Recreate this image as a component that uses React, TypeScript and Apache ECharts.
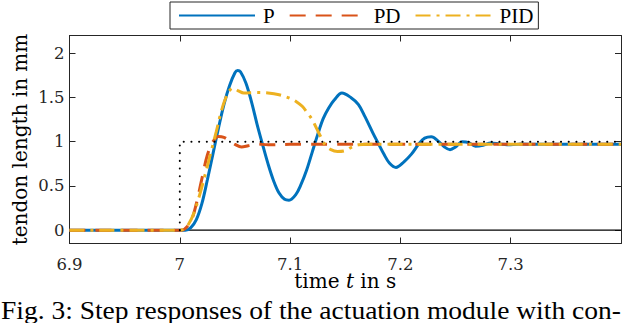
import React, { useEffect, useRef } from "react";
import * as echarts from "echarts";

// ---- data ----
const pTime = [6.9, 7.0, 7.005, 7.01, 7.015, 7.02, 7.025, 7.03, 7.035, 7.04, 7.045, 7.05, 7.0525, 7.055, 7.06, 7.065, 7.07, 7.075, 7.08, 7.085, 7.09, 7.095, 7.099, 7.105, 7.11, 7.115, 7.12, 7.125, 7.13, 7.135, 7.14, 7.147, 7.155, 7.162, 7.168, 7.175, 7.18, 7.185, 7.19, 7.196, 7.203, 7.21, 7.217, 7.222, 7.228, 7.234, 7.24, 7.245, 7.25, 7.256, 7.262, 7.268, 7.275, 7.282, 7.29, 7.3, 7.31, 7.32, 7.4];
const pValues = [0, 0, 0, 0.03, 0.12, 0.3, 0.57, 0.86, 1.15, 1.42, 1.63, 1.78, 1.805, 1.79, 1.66, 1.45, 1.2, 0.97, 0.75, 0.56, 0.42, 0.35, 0.34, 0.4, 0.52, 0.68, 0.88, 1.08, 1.26, 1.38, 1.47, 1.55, 1.5, 1.42, 1.28, 1.1, 0.98, 0.86, 0.76, 0.71, 0.77, 0.86, 0.98, 1.04, 1.055, 1.01, 0.94, 0.91, 0.94, 1.0, 0.99, 0.95, 0.96, 0.985, 0.975, 0.965, 0.975, 0.97, 0.97];

const pdTime = [6.9, 7.0, 7.004, 7.01, 7.015, 7.02, 7.025, 7.03, 7.035, 7.04, 7.045, 7.05, 7.056, 7.062, 7.07, 7.08, 7.1, 7.4];
const pdValues = [0, 0, 0.01, 0.1, 0.3, 0.58, 0.85, 1.0, 1.06, 1.05, 1.01, 0.97, 0.94, 0.955, 0.975, 0.965, 0.97, 0.97];

const pidTime = [6.9, 7.0, 7.003, 7.008, 7.013, 7.018, 7.023, 7.028, 7.033, 7.038, 7.043, 7.048, 7.053, 7.058, 7.07, 7.08, 7.09, 7.1, 7.106, 7.111, 7.116, 7.12, 7.124, 7.128, 7.132, 7.137, 7.143, 7.15, 7.156, 7.162, 7.17, 7.4];
const pidValues = [0, 0, 0.01, 0.07, 0.2, 0.4, 0.63, 0.87, 1.11, 1.36, 1.53, 1.605, 1.575, 1.55, 1.555, 1.55, 1.53, 1.49, 1.45, 1.4, 1.32, 1.25, 1.15, 1.05, 0.96, 0.91, 0.89, 0.9, 0.94, 0.965, 0.97, 0.97];

const refTime = [7.0, 7.0, 7.4];
const refValues = [0, 1, 1];

const zeroTime = [6.9, 7.4];
const zeroValues = [0, 0];

const xTicks = [6.9, 7.0, 7.1, 7.2, 7.3];
const yTicks = [0, 0.5, 1, 1.5, 2];
const seriesNames = ["P", "PD", "PID"];
const caption = "Fig. 3: Step responses of the actuation module with con-";

const zip = (a: number[], b: number[]) => a.map((v, i) => [v, b[i]]);

const FONT = "DejaVu Serif";
const SERIF = "Liberation Serif";
const AX = "#262626";

export default function App() {
  const ref = useRef<HTMLDivElement>(null);
  useEffect(() => {
    document.body.style.margin = "0";
    const chart = echarts.init(ref.current!, undefined, { renderer: "svg" });
    const axisLine = { show: true, onZero: false, lineStyle: { color: AX, width: 1 } };
    const xCommon = {
      type: "value" as const,
      min: 6.9,
      max: 7.4,
      splitLine: { show: false },
      axisLine,
    };
    const yCommon = {
      type: "value" as const,
      min: -0.15,
      max: 2.2,
      splitLine: { show: false },
      axisLine,
    };
    chart.setOption({
      animation: false,
      backgroundColor: "#fff",
      textStyle: { fontFamily: FONT },
      grid: { left: 69.5, right: 19, top: 35.5, bottom: 79.5 },
      legend: {
        data: seriesNames,
        left: 170,
        top: 2,
        orient: "horizontal",
        backgroundColor: "#fff",
        borderColor: AX,
        borderWidth: 1,
        borderRadius: 0,
        padding: [3, 5, 3, 8],
        itemWidth: 76,
        itemHeight: 20,
        itemGap: 14,
        itemStyle: { opacity: 0 },
        textStyle: { fontFamily: SERIF, fontSize: 21, color: "#000", padding: [0, 0, 0, 3] },
      },
      xAxis: [
        {
          ...xCommon,
          position: "bottom",
          axisTick: { show: true, inside: true, length: 6, customValues: xTicks, lineStyle: { color: AX } },
          axisLabel: {
            customValues: xTicks,
            fontFamily: FONT,
            fontSize: 16.5,
            lineHeight: 12,
            color: AX,
            margin: 15,
          },
          name: "time {i|t} in s",
          nameLocation: "middle",
          nameGap: 29,
          nameMoveOverlap: false,
          nameTextStyle: {
            fontFamily: FONT,
            fontSize: 20,
            lineHeight: 16,
            color: "#000",
            rich: { i: { fontFamily: FONT, fontSize: 20, lineHeight: 16, fontStyle: "italic", color: "#000" } },
          },
        },
        {
          ...xCommon,
          position: "top",
          axisTick: { show: true, inside: true, length: 6, customValues: xTicks, lineStyle: { color: AX } },
          axisLabel: { show: false },
        },
      ],
      yAxis: [
        {
          ...yCommon,
          position: "left",
          axisTick: { show: true, inside: true, length: 6, customValues: yTicks, lineStyle: { color: AX } },
          axisLabel: {
            customValues: yTicks,
            fontFamily: FONT,
            fontSize: 16.5,
            color: AX,
            margin: 5,
          },
          name: "tendon length in mm",
          nameLocation: "middle",
          nameRotate: 90,
          nameGap: 40,
          nameMoveOverlap: false,
          nameTextStyle: { fontFamily: FONT, fontSize: 20, color: "#000" },
        },
        {
          ...yCommon,
          position: "right",
          axisTick: { show: true, inside: true, length: 6, customValues: yTicks, lineStyle: { color: AX } },
          axisLabel: { show: false },
        },
      ],
      series: [
        {
          name: "zero",
          type: "line",
          data: zip(zeroTime, zeroValues),
          showSymbol: false,
          symbol: "none",
          lineStyle: { color: "#000", width: 1.3 },
          z: 1,
          silent: true,
        },
        {
          name: "P",
          type: "line",
          data: zip(pTime, pValues),
          symbol: "none",
          smooth: 0.35,
          color: "#0072BD",
          lineStyle: { color: "#0072BD", width: 3 },
          z: 2,
        },
        {
          name: "PD",
          type: "line",
          data: zip(pdTime, pdValues),
          symbol: "none",
          smooth: 0.35,
          color: "#D95319",
          lineStyle: { color: "#D95319", width: 3, type: [16, 10] },
          z: 3,
        },
        {
          name: "PID",
          type: "line",
          data: zip(pidTime, pidValues),
          symbol: "none",
          smooth: 0.35,
          color: "#EDB120",
          lineStyle: { color: "#EDB120", width: 3, type: [15, 6, 3, 6] },
          z: 4,
        },
        {
          name: "reference",
          type: "line",
          data: zip(refTime, refValues),
          symbol: "none",
          lineStyle: { color: "#000", width: 2, type: [0.1, 7.6], cap: "round" },
          z: 5,
          silent: true,
        },
      ],
      graphic: [
        {
          type: "text",
          x: 1,
          y: 298,
          scaleX: 1.1,
          style: { text: caption, fontFamily: SERIF, fontSize: 25, fill: "#000" },
        },
      ],
    });
    return () => chart.dispose();
  }, []);
  return (
    <div
      ref={ref}
      style={{ position: "absolute", left: 0, top: 0, width: 640, height: 323 }}
    />
  );
}
